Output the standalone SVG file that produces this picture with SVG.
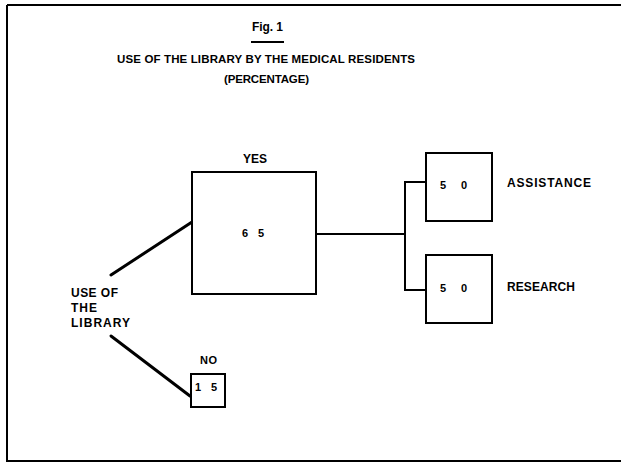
<svg xmlns="http://www.w3.org/2000/svg" width="621" height="463" viewBox="0 0 621 463">
<style>
text{font-family:"Liberation Sans",Arial,sans-serif;font-weight:bold;fill:#000;}
.t{font-size:12px;}
.h{font-size:11.5px;}
.n{font-size:11px;}
.box{fill:#fff;stroke:#000;stroke-width:2;}
.ln{fill:none;stroke:#000;stroke-width:2;}
.diag{fill:none;stroke:#000;stroke-width:3;stroke-linecap:round;}
</style>
<rect width="621" height="463" fill="#fff"/>
<path d="M7,5 H621 M7,5 V461 H621" fill="none" stroke="#000" stroke-width="2"/>
<g id="title">
<text x="252" y="31" class="t" textLength="31" lengthAdjust="spacing">Fig. 1</text>
<line x1="251" y1="42" x2="284" y2="42" stroke="#000" stroke-width="2"/>
<text x="117" y="63" class="h" textLength="298" lengthAdjust="spacing">USE OF THE LIBRARY BY THE MEDICAL RESIDENTS</text>
<text x="224" y="83" class="h" textLength="85" lengthAdjust="spacing">(PERCENTAGE)</text>
</g>
<g id="connectors">
<line class="diag" x1="111" y1="275" x2="192" y2="222"/>
<line class="diag" x1="111" y1="336" x2="190" y2="396"/>
<line class="ln" x1="316" y1="234" x2="405" y2="234"/>
<path class="ln" d="M427,182 H405 V290 H427"/>
</g>
<g id="root">
<text x="71" y="297" class="t" textLength="47" lengthAdjust="spacing">USE OF</text>
<text x="71" y="312" class="t" textLength="26" lengthAdjust="spacing">THE</text>
<text x="71" y="327" class="t" textLength="59" lengthAdjust="spacing">LIBRARY</text>
</g>
<g id="yes">
<rect class="box" x="192" y="172" width="124" height="122"/>
<text x="243" y="163" class="t" textLength="24" lengthAdjust="spacing">YES</text>
<text x="242" y="237" class="n" textLength="22" lengthAdjust="spacing">6 5</text>
</g>
<g id="no">
<rect class="box" x="191" y="374" width="34" height="33"/>
<text x="200" y="364" class="n" textLength="17" lengthAdjust="spacing">NO</text>
<text x="195" y="391" class="n" textLength="22" lengthAdjust="spacing">1 5</text>
</g>
<g id="assistance">
<rect class="box" x="426" y="153" width="66" height="68"/>
<text x="440" y="189" class="n" textLength="27" lengthAdjust="spacing">5 0</text>
<text x="507" y="187" class="t" textLength="84" lengthAdjust="spacing">ASSISTANCE</text>
</g>
<g id="research">
<rect class="box" x="426" y="255" width="66" height="68"/>
<text x="440" y="292" class="n" textLength="27" lengthAdjust="spacing">5 0</text>
<text x="507" y="291" class="t" textLength="68" lengthAdjust="spacing">RESEARCH</text>
</g>
</svg>
